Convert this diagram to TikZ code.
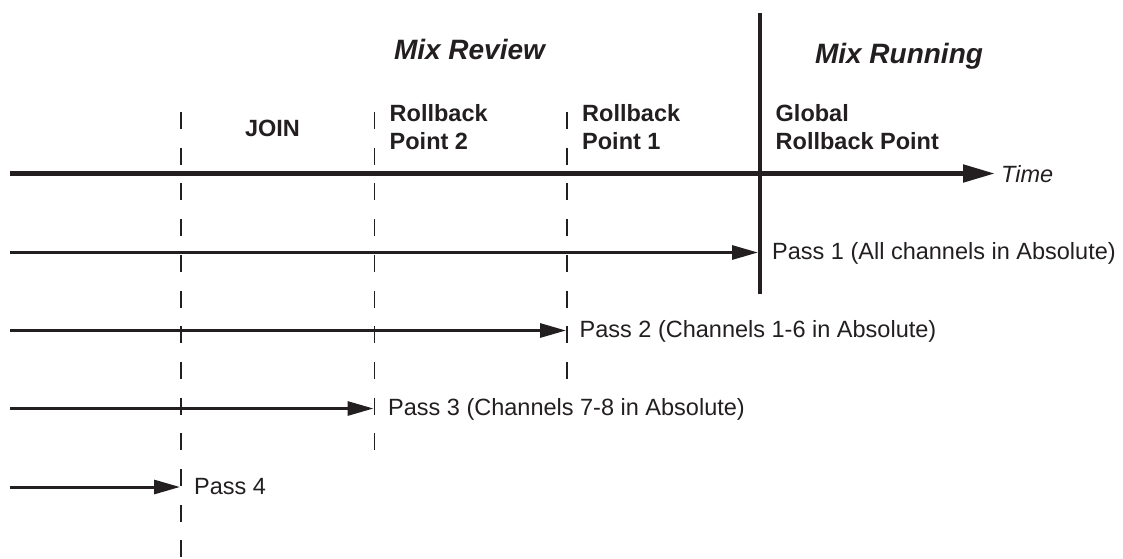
\documentclass[tikz,border=0pt]{standalone}
\usepackage{fontspec}
\setmainfont{Liberation Sans}
\usetikzlibrary{arrows.meta}
\definecolor{ink}{RGB}{35,31,32}
\begin{document}
\begin{tikzpicture}[x=1pt,y=-1pt,
  every node/.style={inner sep=0pt, text=ink},
  lbl/.style={font=\fontsize{23.5}{28}\selectfont},
  blbl/.style={font=\fontsize{23.5}{28}\selectfont\bfseries, align=left},
  ttl/.style={font=\fontsize{28}{33}\selectfont\bfseries\itshape},
  timelbl/.style={font=\fontsize{23.5}{28}\selectfont\itshape},
  axisline/.style={draw=ink, line width=5pt, -{Triangle[length=32pt,width=17pt]}},
  passline/.style={draw=ink, line width=3pt, -{Triangle[length=26pt,width=14pt]}},
  marker/.style={draw=ink, line width=1.7pt, dash pattern=on 17pt off 18.7pt},
  divider/.style={draw=ink, line width=4pt}]
\useasboundingbox (0,0) rectangle (1123,558);

% titles
\node[ttl, anchor=base] (mixreview) at (469.5,59) {Mix Review};
\node[ttl, anchor=base] (mixrunning) at (899,63) {Mix Running};

% end points
\coordinate (ax0) at (10,173.5);
\coordinate (ax1) at (995,173.5);
\coordinate (g0) at (760,13);
\coordinate (g1) at (760,294);
\coordinate (j0) at (181,112);
\coordinate (j1) at (181,558);
\coordinate (rb2a) at (374.5,112);
\coordinate (rb2b) at (374.5,451);
\coordinate (rb1a) at (567,112);
\coordinate (rb1b) at (567,380);

% column labels
\node[lbl, font=\fontsize{23.5}{28}\selectfont\bfseries, anchor=base] (join) at (272.5,136.5) {JOIN};
\node[blbl, anchor=north west] (rp2) at (389.5,104.2) {Rollback\\Point 2};
\node[blbl, anchor=north west] (rp1) at (582,104.2) {Rollback\\Point 1};
\node[blbl, anchor=north west] (grp) at (775.5,104.2) {Global\\Rollback Point};

% markers
\draw[marker] (j0) -- (j1);
\draw[marker] (rb2a) -- (rb2b);
\draw[marker] (rb1a) -- (rb1b);

% time axis and divider
\draw[axisline] (ax0) -- (ax1);
\node[timelbl, anchor=base west] (time) at (1001,182) {Time};
\draw[divider] (g0) -- (g1);

% passes
\coordinate (p1s) at (10,252.5);
\coordinate (p1e) at (758,252.5);
\coordinate (p2s) at (10,330.5);
\coordinate (p2e) at (566,330.5);
\coordinate (p3s) at (10,408.5);
\coordinate (p3e) at (373.5,408.5);
\coordinate (p4s) at (10,487);
\coordinate (p4e) at (180,487);
\draw[passline] (p1s) -- (p1e);
\draw[passline] (p2s) -- (p2e);
\draw[passline] (p3s) -- (p3e);
\draw[passline] (p4s) -- (p4e);
\node[lbl, anchor=base west] (pass1) at (772,259.5) {Pass 1 (All channels in Absolute)};
\node[lbl, anchor=base west] (pass2) at (579.5,337.5) {Pass 2 (Channels 1-6 in Absolute)};
\node[lbl, anchor=base west] (pass3) at (388,415.5) {Pass 3 (Channels 7-8 in Absolute)};
\node[lbl, anchor=base west] (pass4) at (194,494) {Pass 4};
\end{tikzpicture}
\end{document}
